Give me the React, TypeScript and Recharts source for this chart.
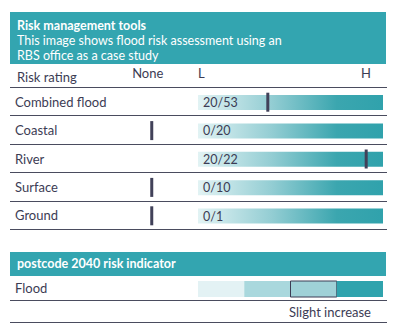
import {
  Bar,
  ComposedChart,
  LabelList,
  Scatter,
  XAxis,
  YAxis,
} from "recharts";

// flood risk rows (RBS office case study)
const riskRows = ["Combined flood", "Coastal", "River", "Surface", "Ground"];
const affected = [20, 0, 20, 0, 0];
const assessed = [53, 20, 22, 10, 1];
const columnTicks = [-0.25, 0, 1];
const columnLabels = ["None", "L", "H"];
const noneValue = -0.25;

// postcode 2040 indicator: four equal bands, third one highlighted
const futureRows = ["Flood"];
const futureBands = [0.25, 0.25, 0.25, 0.25];
const futureLevel = 2;
const futureText = "Slight increase";

const teal = "#33a5b0";
const ink = "#3c3c54";
const rule = "#4a4c5e";
const font = "Lato, 'Open Sans', sans-serif";

const W = 396;
const MARGIN = { top: 0, right: 13, bottom: 0, left: 10 };
const LABEL_W = 95.5;
const DOMAIN: [number, number] = [-0.5, 1];

const riskData = riskRows.map((name, i) => ({
  name,
  full: 1,
  ratio: `${affected[i]}/${assessed[i]}`,
  marker: affected[i] === 0 ? noneValue : affected[i] / assessed[i],
}));

const futureData = futureRows.map((name) => {
  const row: Record<string, number | string> = { name };
  futureBands.forEach((v, i) => (row[`q${i}`] = v));
  return row;
});
const bandFills = ["#e3f2f4", "#a9d8dd", "#9fd1d7", "#2fa3ad"];

function RowTick({ y, payload }: any) {
  return (
    <text x={15} y={y} dy="0.35em" fill={ink} fontSize={13} fontFamily={font}>
      {payload.value}
    </text>
  );
}

function ColumnTick({ x, y, payload, index }: any) {
  const anchors = ["middle", "start", "end"];
  const dx = [-4, 0, -12];
  return (
    <text
      x={x + dx[index]}
      y={y}
      dy={-2}
      textAnchor={anchors[index] as any}
      fill={ink}
      fontSize={13}
      fontFamily={font}
    >
      {columnLabels[columnTicks.indexOf(payload.value)]}
    </text>
  );
}

function Marker({ cx, cy }: any) {
  return <rect x={cx - 1.5} y={cy - 9.5} width={3} height={19} fill="#414159" />;
}

function Rule({ top }: { top: number }) {
  return (
    <div
      style={{
        position: "absolute",
        left: 10,
        top,
        width: 377,
        height: 1,
        background: rule,
      }}
    />
  );
}

export default function App() {
  const pitch = 142 / riskRows.length;
  return (
    <div
      style={{
        position: "fixed",
        left: 0,
        top: 0,
        width: W,
        height: 331,
        background: "#fff",
        fontFamily: font,
        color: ink,
      }}
    >
      <div
        style={{
          position: "absolute",
          left: 10,
          top: 12,
          width: 376,
          height: 52,
          background: teal,
          color: "#fff",
          boxSizing: "border-box",
          padding: "6px 7px 0",
          fontSize: 12.5,
          lineHeight: "15px",
        }}
      >
        <div style={{ fontWeight: 700 }}>Risk management tools</div>
        <div>This image shows flood risk assessment using an</div>
        <div>RBS office as a case study</div>
      </div>
      <div style={{ position: "absolute", left: 17, top: 69, fontSize: 13, lineHeight: "16px" }}>
        Risk rating
      </div>

      {riskRows.map((r, i) => (
        <Rule key={r} top={Math.round(88 + i * pitch) - 1} />
      ))}
      <Rule top={229} />

      <div style={{ position: "absolute", left: 0, top: 64 }}>
        <ComposedChart
          width={W}
          height={166}
          data={riskData}
          layout="vertical"
          margin={MARGIN}
        >
          <defs>
            <linearGradient id="riskGrad" x1="0" y1="0" x2="1" y2="0">
              <stop offset="0%" stopColor="#e2f3f4" />
              <stop offset="40%" stopColor="#93cdd3" />
              <stop offset="75%" stopColor="#3ba6af" />
              <stop offset="100%" stopColor="#30a2ac" />
            </linearGradient>
          </defs>
          <XAxis
            type="number"
            orientation="top"
            domain={DOMAIN}
            ticks={columnTicks}
            height={24}
            axisLine={false}
            tickLine={false}
            tick={<ColumnTick />}
          />
          <YAxis
            type="category"
            dataKey="name"
            width={LABEL_W}
            axisLine={false}
            tickLine={false}
            tick={<RowTick />}
          />
          <Bar dataKey="full" barSize={15} fill="url(#riskGrad)" isAnimationActive={false}>
            <LabelList
              dataKey="ratio"
              position="insideLeft"
              offset={5}
              fill={ink}
              fontSize={12.5}
              fontFamily={font}
            />
          </Bar>
          <Scatter dataKey="marker" shape={<Marker />} isAnimationActive={false} />
        </ComposedChart>
      </div>

      <div
        style={{
          position: "absolute",
          left: 10,
          top: 252,
          width: 376,
          height: 24,
          background: teal,
          color: "#fff",
          boxSizing: "border-box",
          padding: "0 7px",
          fontSize: 12.5,
          fontWeight: 700,
          lineHeight: "24px",
        }}
      >
        postcode 2040 risk indicator
      </div>

      <div style={{ position: "absolute", left: 0, top: 276 }}>
        <ComposedChart
          width={W}
          height={25}
          data={futureData}
          layout="vertical"
          margin={MARGIN}
        >
          <XAxis type="number" domain={DOMAIN} hide />
          <YAxis
            type="category"
            dataKey="name"
            width={LABEL_W}
            axisLine={false}
            tickLine={false}
            tick={<RowTick />}
          />
          {futureBands.map((_, i) => (
            <Bar
              key={i}
              dataKey={`q${i}`}
              stackId="f"
              barSize={16}
              fill={bandFills[i]}
              stroke={i === futureLevel ? "#3c3c54" : "none"}
              strokeWidth={1}
              isAnimationActive={false}
            />
          ))}
        </ComposedChart>
      </div>
      <Rule top={300} />
      <div
        style={{
          position: "absolute",
          right: W - 371,
          top: 304,
          fontSize: 13,
          lineHeight: "16px",
        }}
      >
        {futureText}
      </div>
      <Rule top={322} />
    </div>
  );
}
